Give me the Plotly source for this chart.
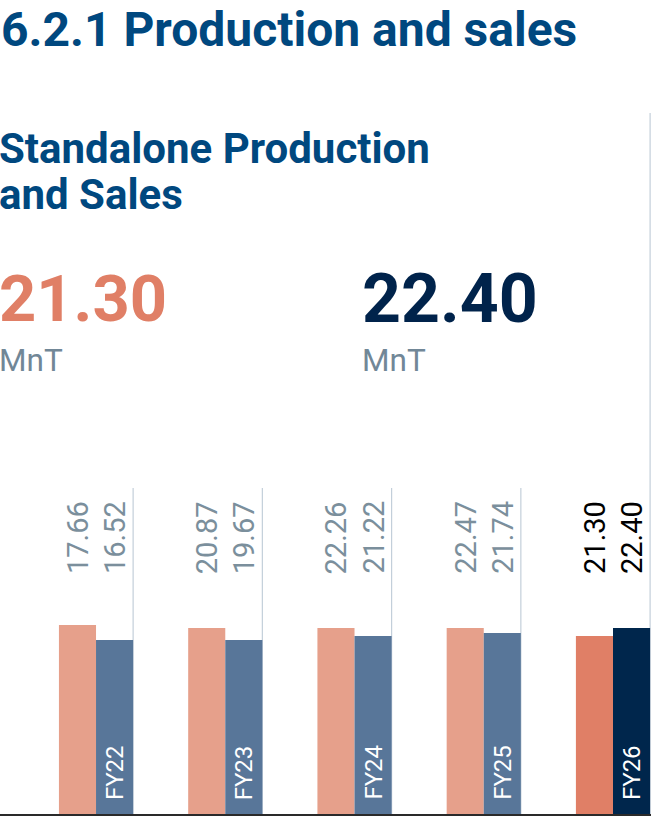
import plotly.graph_objects as go

# data
years = ["FY22", "FY23", "FY24", "FY25", "FY26"]
production = [17.66, 20.87, 22.26, 22.47, 21.30]
sales = [16.52, 19.67, 21.22, 21.74, 22.40]

# the infographic does not draw bars to scale, so keep the drawn heights (px) separately
production_drawn = [189, 186, 186, 186, 178]
sales_drawn = [174, 174, 178, 181, 186]

W, H = 651, 817


def py(px_from_top):
    # pixel row -> paper y
    return (H - px_from_top) / H


prod_colors = ["#E6A08B"] * 4 + ["#E07F66"]
sales_colors = ["#587699"] * 4 + ["#00264C"]
label_colors = ["#7B8F9C"] * 4 + ["#000000"]

fig = go.Figure()
fig.add_trace(go.Bar(x=years, y=production_drawn, marker=dict(color=prod_colors, line=dict(width=0)),
                     name="Production", hoverinfo="skip"))
fig.add_trace(go.Bar(x=years, y=sales_drawn, marker=dict(color=sales_colors, line=dict(width=0)),
                     name="Sales", hoverinfo="skip"))

half = 0.1435  # half a bar, in category units

# rotated value labels above the bars + FY label inside the sales bar
for i, yr in enumerate(years):
    fig.add_annotation(x=i - half, xref="x", y=py(576), yref="paper", yanchor="bottom",
                       text=f"{production[i]:.2f}", textangle=-90, showarrow=False,
                       font=dict(family="Roboto", size=29, color=label_colors[i]))
    fig.add_annotation(x=i + half, xref="x", y=py(576), yref="paper", yanchor="bottom",
                       text=f"{sales[i]:.2f}", textangle=-90, showarrow=False,
                       font=dict(family="Roboto", size=29, color=label_colors[i]))
    fig.add_annotation(x=i + half, xref="x", y=py(802), yref="paper", yanchor="bottom",
                       text=yr, textangle=-90, showarrow=False,
                       font=dict(family="Roboto", size=24, color="white"))
    # thin divider after each group
    top = py(113) if i == len(years) - 1 else py(488)
    fig.add_shape(type="line", xref="x", yref="paper", x0=i + 2 * half, x1=i + 2 * half,
                  y0=py(814), y1=top, line=dict(color="#C3CFDA", width=1.2), layer="below")

# headings
heading = "#00487F"
fig.add_annotation(x=0, xref="paper", y=1, yref="paper", xanchor="left", yanchor="top",
                   text="<b>6.2.1 Production and sales</b>", showarrow=False, align="left",
                   font=dict(family="Roboto", size=48, color=heading), borderpad=0)
for txt, top in (("Standalone Production", 122), ("and Sales", 168)):
    fig.add_annotation(x=0, xref="paper", y=py(top), yref="paper", xanchor="left", yanchor="top",
                       text=f"<b>{txt}</b>", showarrow=False, align="left",
                       font=dict(family="Roboto", size=42, color=heading), xshift=-3)

# headline numbers for the latest year
fig.add_annotation(x=0, xref="paper", y=py(259), yref="paper", xanchor="left", yanchor="top",
                   text=f"<b>{production[-1]:.2f}</b>", showarrow=False,
                   font=dict(family="Roboto", size=65, color="#E07F66"), xshift=-3)
fig.add_annotation(x=363 / W, xref="paper", y=py(257), yref="paper", xanchor="left", yanchor="top",
                   text=f"<b>{sales[-1]:.2f}</b>", showarrow=False,
                   font=dict(family="Roboto", size=68, color="#00234B"), xshift=-3)
for xpos in (0, 363 / W):
    fig.add_annotation(x=xpos, xref="paper", y=py(339.5), yref="paper", xanchor="left", yanchor="top",
                       text="MnT", showarrow=False,
                       font=dict(family="Roboto", size=31.5, color="#718797"), xshift=-3)

fig.update_layout(
    width=W, height=H,
    margin=dict(l=0, r=0, t=0, b=0),
    plot_bgcolor="white", paper_bgcolor="white",
    barmode="group", bargap=0.426, bargroupgap=0,
    showlegend=False,
    xaxis=dict(range=[-0.743, 4.294], showticklabels=False, showgrid=False, zeroline=False,
               showline=True, linecolor="#2A2A2A", linewidth=2, fixedrange=True),
    yaxis=dict(domain=[py(814), py(488)], range=[0, 326], showticklabels=False,
               showgrid=False, zeroline=False, fixedrange=True),
)

fig.write_html("out.html", config={"displayModeBar": False},
               post_script="document.body.style.margin='0';")
